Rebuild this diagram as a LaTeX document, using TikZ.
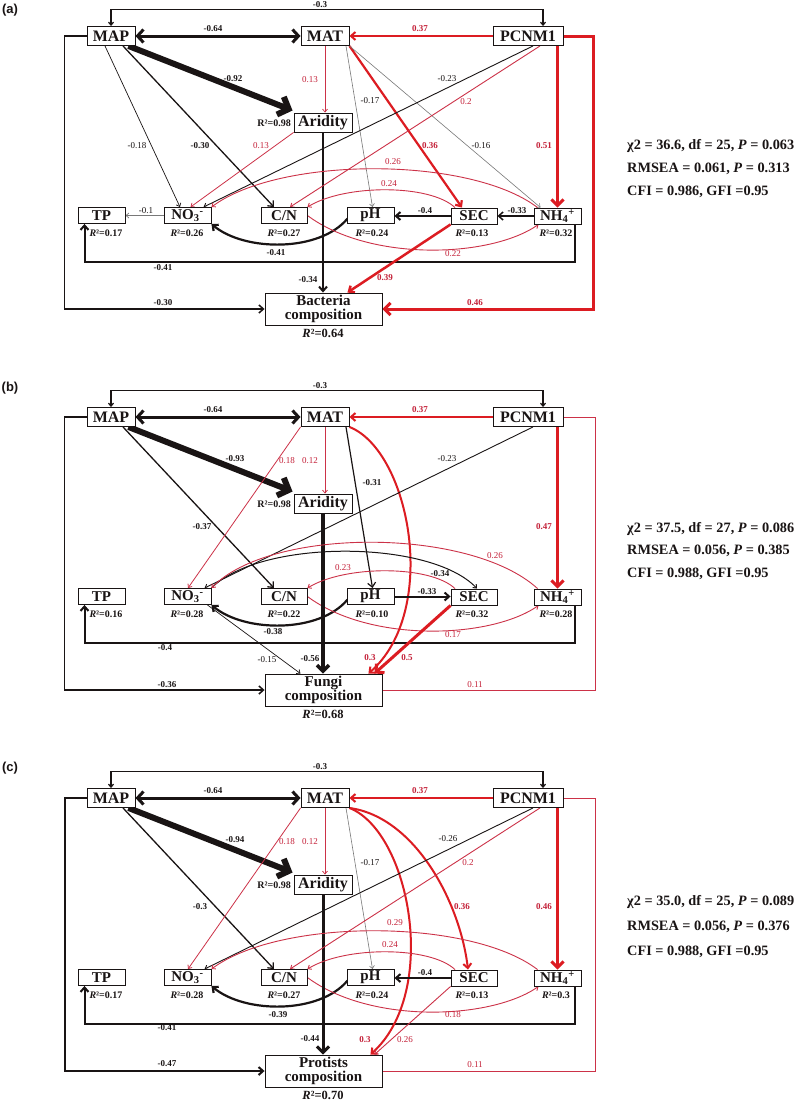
\documentclass[tikz,border=0pt]{standalone}
\usepackage{fontspec}
\setmainfont{Liberation Serif}
\newfontfamily\panelfont{Liberation Sans}
\usetikzlibrary{arrows.meta,backgrounds}
\definecolor{sred}{RGB}{220,28,34}
\definecolor{tred}{RGB}{204,50,72}
\definecolor{lred}{RGB}{196,32,56}
\definecolor{gline}{RGB}{120,120,120}
\definecolor{ink}{RGB}{25,20,20}
\tikzset{
 bbox/.style={draw=ink, line width=0.9pt, fill=white, inner sep=0pt, minimum height=19pt, font=\bfseries\fontsize{16}{16}\selectfont, text=ink},
 sbox/.style={bbox, minimum height=16pt, font=\bfseries\fontsize{15}{15}\selectfont},
 cbox/.style={bbox, minimum width=117pt, minimum height=32pt, align=center, font=\bfseries\fontsize{15}{13.5}\selectfont},
 rsq/.style={inner sep=0pt, font=\bfseries\fontsize{10}{10}\selectfont, text=ink},
 rsqb/.style={rsq, font=\bfseries\fontsize{12.5}{12.5}\selectfont},
 lab/.style={inner sep=0pt, font=\fontsize{9}{9}\selectfont, text=ink},
 labb/.style={lab, font=\bfseries\fontsize{9}{9}\selectfont},
 labr/.style={lab, text=lred},
 labrb/.style={labb, text=lred},
 stat/.style={anchor=west, inner sep=0pt, font=\bfseries\fontsize{14.3}{14.3}\selectfont, text=ink},
 plab/.style={inner sep=0pt, font=\panelfont\bfseries\fontsize{13}{13}\selectfont, text=ink},
 t1/.style={-{Straight Barb[length=3pt,width=5pt]}},
 t2/.style={-{Straight Barb[length=4.5pt,width=8pt]}},
 t3/.style={-{Straight Barb[length=6pt,width=12pt]}},
 t6/.style={-{Straight Barb[length=9pt,width=19pt]}},
}
\newcounter{elabc}
\newcommand\elab[3][lab]{\stepcounter{elabc}\node[#1] (L\arabic{elabc}) at (#2) {#3};}
% #1 TP, #2 NO3, #3 C/N, #4 pH, #5 SEC, #6 NH4, #7 composition name, #8 composition R2
\newcommand\panelnodes[8]{%
 \node[bbox, minimum width=48pt] (MAP) at (111,36) {MAP};
 \node[bbox, minimum width=48pt] (MAT) at (325,36) {MAT};
 \node[bbox, minimum width=70pt] (PCNM) at (528,36) {PCNM1};
 \node[bbox, minimum width=58pt] (AR) at (323,122.5) {Aridity};
 \node[rsq, anchor=east] (ARr) at (291,123.5) {R²=0.98};
 \node[sbox, minimum width=47pt] (TP) at (101.5,215.5) {TP};
 \node[sbox, minimum width=47pt] (NO) at (187.5,215.5) {NO\textsubscript{3}\textsuperscript{-}};
 \node[sbox, minimum width=46pt] (CN) at (284,215.5) {C/N};
 \node[sbox, minimum width=47pt] (PH) at (370.5,215.5) {pH};
 \node[sbox, minimum width=46pt] (SEC) at (474,216) {SEC};
 \node[sbox, minimum width=47pt] (NH) at (557.5,216) {NH\textsubscript{4}\textsuperscript{+}};
 \node[cbox] (CO) at (323.5,309) {#7};
 \node[rsq] (TPr) at (106,233) {\textit{R}²=#1};
 \node[rsq] (NOr) at (187,233) {\textit{R}²=#2};
 \node[rsq] (CNr) at (284,233) {\textit{R}²=#3};
 \node[rsq] (PHr) at (372,233) {\textit{R}²=#4};
 \node[rsq] (SECr) at (472,233) {\textit{R}²=#5};
 \node[rsq] (NHr) at (556,233) {\textit{R}²=#6};
 \node[rsqb] (COr) at (323,333.5) {\textit{R}²=#8};
}
\newcommand\commonedges{%
 \draw[ink, line width=1.2pt, {Straight Barb[length=3pt,width=5pt]}-{Straight Barb[length=3pt,width=5pt]}] (MAP.north) -- ++(0,-16.5) -| ([xshift=15pt]PCNM.north);
 \draw[ink, line width=3pt, {Straight Barb[length=6pt,width=13pt]}-{Straight Barb[length=6pt,width=13pt]}] (MAP.east) -- (MAT.west);
 \draw[sred, line width=2pt, t2] (PCNM.west) -- (MAT.east);
 \draw[ink, line width=6pt, t6] ([xshift=-7pt]MAP.south east) -- ([shift={(-1,-12)}]AR.west);
 \draw[tred, line width=0.7pt, t1] (MAT.south) -- (MAT.south |- AR.north);
 \draw[sred, line width=3pt, t3] (NH.north |- PCNM.south) -- (NH.north);
 \draw[ink, line width=2pt, t2] ([xshift=-6pt]NH.south east) -- ++(0,38) -| ([xshift=-17pt]TP.south);
 \draw[ink, line width=2.2pt, t2] ([shift={(1,3)}]PH.west) .. controls (320,252) and (245,252) .. (NO.south east);
 \draw[tred, line width=0.9pt, t1] (CN.east) .. controls (370,262) and (490,258) .. ([xshift=5pt]NH.south west);
 \draw[ink, line width=1.3pt, t2] ([xshift=12pt]MAP.south) -- ([xshift=-10pt]CN.north);
}
\begin{document}
\begin{tikzpicture}[x=1pt,y=-1pt]
\useasboundingbox (0,0) rectangle (800,1103);
\begin{scope}[on background layer]
 \fill[white] (0,0) rectangle (800,1103);
\end{scope}
\node[plab] (pa) at (10,10) {(a)};
\node[plab] (pb) at (10,388) {(b)};
\node[plab] (pc) at (10,768) {(c)};

% ---------------- panel a
\begin{scope}[name prefix=a-]
\panelnodes{0.17}{0.26}{0.27}{0.24}{0.13}{0.32}{Bacteria\\composition}{0.64}
\begin{scope}[on background layer]
\commonedges
\draw[ink, line width=2pt, t2] (AR.south) -- (AR.south |- CO.north);
\draw[ink, line width=0.7pt, t1] ([xshift=-6pt]MAP.south) -- ([xshift=-7.5pt]NO.north);
\draw[tred, line width=0.8pt, t1] (AR.south west) -- ([xshift=3pt]NO.north);
\draw[gline, line width=0.6pt, t1] ([xshift=21pt]MAT.south) -- ([xshift=2pt]PH.north);
\draw[sred, line width=2.2pt, t2] (MAT.south east) -- ([xshift=-12pt]SEC.north);
\draw[gline, line width=0.6pt, t1] (MAT.south east) -- ([xshift=-17pt]NH.north);
\draw[ink, line width=0.9pt, t1] ([xshift=5pt]PCNM.south) -- ([xshift=16pt]NO.north);
\draw[tred, line width=0.9pt, t1] ([xshift=12pt]PCNM.south) -- ([xshift=6pt]CN.north);
\draw[sred, line width=3pt, t3] (PCNM.east) -- ++(30,0) |- (CO.east);
\draw[tred, line width=0.9pt, t1] ([xshift=4pt]NH.north west) .. controls (470,156) and (280,156) .. (NO.north east);
\draw[tred, line width=0.9pt, t1] ([xshift=-19pt]SEC.north) .. controls (430,184) and (345,184) .. (CN.north east);
\draw[ink, line width=1.5pt, t2] (NH.west) -- (SEC.east);
\draw[ink, line width=2pt, t2] (SEC.west) -- (SEC.west -| PH.east);
\draw[sred, line width=2.5pt, t2] (SEC.south west) -- ([xshift=-35pt]CO.north east);
\draw[ink, line width=1.5pt, t2] (MAP.west) -- ++(-22,0) |- (CO.west);
\draw[gline, line width=0.7pt, t1] (NO.west) -- (TP.east);
\end{scope}
\elab[labb]{320,5}{-0.3}
\elab[labb]{213,29}{-0.64}
\elab[labrb]{420,29}{0.37}
\elab[labb]{233,79}{-0.92}
\elab[labr]{310,80}{0.13}
\elab{370,101}{-0.17}
\elab{447,79}{-0.23}
\elab[labr]{466,102}{0.2}
\elab{137,146}{-0.18}
\elab[labb]{200,146}{-0.30}
\elab[labr]{261,146}{0.13}
\elab[labrb]{430,146}{0.36}
\elab{481,146}{-0.16}
\elab[labrb]{544,146}{0.51}
\elab[labr]{393,162}{0.26}
\elab[labr]{389,184}{0.24}
\elab{146,211}{-0.1}
\elab[labb]{425,211}{-0.4}
\elab[labb]{517,211}{-0.33}
\elab[labb]{276,253}{-0.41}
\elab[labr]{453,254}{0.22}
\elab[labb]{163,268}{-0.41}
\elab[labb]{308,280}{-0.34}
\elab[labrb]{385,278}{0.39}
\elab[labb]{163,303}{-0.30}
\elab[labrb]{475,303}{0.46}
\node[stat] (s1) at (627,146) {χ2 = 36.6, df = 25, \textit{P} = 0.063};
\node[stat] (s2) at (627,169) {RMSEA = 0.061, \textit{P} = 0.313};
\node[stat] (s3) at (627,192) {CFI = 0.986, GFI =0.95};
\end{scope}

% ---------------- panel b
\begin{scope}[shift={(0,381)}, name prefix=b-]
\panelnodes{0.16}{0.28}{0.22}{0.10}{0.32}{0.28}{Fungi\\composition}{0.68}
\begin{scope}[on background layer]
\commonedges
\draw[ink, line width=3.5pt, t3] (AR.south) -- (AR.south |- CO.north);
\draw[tred, line width=0.8pt, t1] (MAT.south west) -- ([xshift=0.5pt]NO.north);
\draw[ink, line width=1.2pt, t2] ([xshift=21pt]MAT.south) -- ([xshift=2pt]PH.north);
\draw[sred, line width=2pt, t2] (MAT.south east) .. controls (410,70) and (440,230) .. ([xshift=-14pt]CO.north east);
\draw[ink, line width=0.9pt, t1] ([xshift=5pt]PCNM.south) -- ([xshift=17pt]NO.north);
\draw[tred, line width=0.8pt] (PCNM.east) -- ++(32,0) |- (CO.east);
\draw[ink, line width=1pt, t1] (NO.north east) .. controls (260,158) and (430,158) .. ([xshift=3pt]SEC.north);
\draw[tred, line width=0.9pt, t1] ([xshift=4pt]NH.north west) .. controls (470,146) and (270,146) .. (NO.north east);
\draw[tred, line width=0.9pt, t1] ([xshift=-19pt]SEC.north) .. controls (430,184) and (345,184) .. (CN.north east);
\draw[ink, line width=2pt, t2] (PH.east) -- (PH.east -| SEC.west);
\draw[sred, line width=3pt, t3] (SEC.south west) -- ([xshift=-8pt]CO.north east);
\draw[ink, line width=1.5pt, t2] (MAP.west) -- ++(-22,0) |- (CO.west);
\draw[ink, line width=0.7pt, t1] ([xshift=-4pt]NO.south east) -- ([xshift=-23pt]CO.north);
\end{scope}
\elab[labb]{320,5}{-0.3}
\elab[labb]{213,29}{-0.64}
\elab[labrb]{420,29}{0.37}
\elab[labb]{235,78}{-0.93}
\elab[labr]{287,80}{0.18}
\elab[labr]{310,80}{0.12}
\elab[labb]{372,102}{-0.31}
\elab{447,78}{-0.23}
\elab[labb]{202,146}{-0.37}
\elab[labrb]{544,146}{0.47}
\elab[labr]{495,175}{0.26}
\elab[labb]{440,193}{-0.34}
\elab[labr]{343,187}{0.23}
\elab[labb]{427,211}{-0.33}
\elab[labb]{273,251}{-0.38}
\elab[labr]{453,254}{0.17}
\elab[labb]{165,267}{-0.4}
\elab{267,279}{-0.15}
\elab[labb]{310,278}{-0.56}
\elab[labrb]{370,277}{0.3}
\elab[labrb]{407,277}{0.5}
\elab[labb]{167,304}{-0.36}
\elab[labr]{475,304}{0.11}
\node[stat] (s1) at (627,148) {χ2 = 37.5, df = 27, \textit{P} = 0.086};
\node[stat] (s2) at (627,170) {RMSEA = 0.056, \textit{P} = 0.385};
\node[stat] (s3) at (627,193) {CFI = 0.988, GFI =0.95};
\end{scope}

% ---------------- panel c
\begin{scope}[shift={(0,762)}, name prefix=c-]
\panelnodes{0.17}{0.28}{0.27}{0.24}{0.13}{0.3}{Protists\\composition}{0.70}
\begin{scope}[on background layer]
\commonedges
\draw[ink, line width=3pt, t3] (AR.south) -- (AR.south |- CO.north);
\draw[tred, line width=0.8pt, t1] (MAT.south west) -- ([xshift=0.5pt]NO.north);
\draw[gline, line width=0.6pt, t1] ([xshift=21pt]MAT.south) -- ([xshift=2pt]PH.north);
\draw[sred, line width=2pt, t2] (MAT.south east) .. controls (415,55) and (460,140) .. ([xshift=-6pt]SEC.north);
\draw[sred, line width=2pt, t2] (MAT.south east) .. controls (410,70) and (440,230) .. ([xshift=-12pt]CO.north east);
\draw[ink, line width=0.9pt, t1] ([xshift=5pt]PCNM.south) -- ([xshift=17pt]NO.north);
\draw[tred, line width=0.9pt, t1] ([xshift=12pt]PCNM.south) -- ([xshift=6pt]CN.north);
\draw[tred, line width=0.8pt] (PCNM.east) -- ++(32,0) |- (CO.east);
\draw[tred, line width=0.9pt, t1] ([xshift=4pt]NH.north west) .. controls (470,156) and (280,156) .. (NO.north east);
\draw[tred, line width=0.9pt, t1] ([xshift=-19pt]SEC.north) .. controls (430,184) and (345,184) .. (CN.north east);
\draw[ink, line width=2pt, t2] (SEC.west) -- (SEC.west -| PH.east);
\draw[tred, line width=0.9pt, t1] (SEC.south west) -- ([xshift=-8pt]CO.north east);
\draw[ink, line width=2pt, t2] (MAP.west) -- ++(-22,0) |- (CO.west);
\end{scope}
\elab[labb]{320,5}{-0.3}
\elab[labb]{213,29}{-0.64}
\elab[labrb]{420,29}{0.37}
\elab[labb]{235,78}{-0.94}
\elab[labr]{287,80}{0.18}
\elab[labr]{310,80}{0.12}
\elab{370,101}{-0.17}
\elab{448,77}{-0.26}
\elab[labr]{468,101}{0.2}
\elab[labb]{200,145}{-0.3}
\elab[labrb]{462,145}{0.36}
\elab[labrb]{544,145}{0.46}
\elab[labr]{395,161}{0.29}
\elab[labr]{390,183}{0.24}
\elab[labb]{425,211}{-0.4}
\elab[labb]{278,253}{-0.39}
\elab[labr]{453,253}{0.18}
\elab[labb]{167,266}{-0.41}
\elab[labb]{310,277}{-0.44}
\elab[labrb]{365,278}{0.3}
\elab[labr]{405,278}{0.26}
\elab[labb]{167,302}{-0.47}
\elab[labr]{475,303}{0.11}
\node[stat] (s1) at (627,140) {χ2 = 35.0, df = 25, \textit{P} = 0.089};
\node[stat] (s2) at (627,165) {RMSEA = 0.056, \textit{P} = 0.376};
\node[stat] (s3) at (627,190) {CFI = 0.988, GFI =0.95};
\end{scope}
\end{tikzpicture}
\end{document}
